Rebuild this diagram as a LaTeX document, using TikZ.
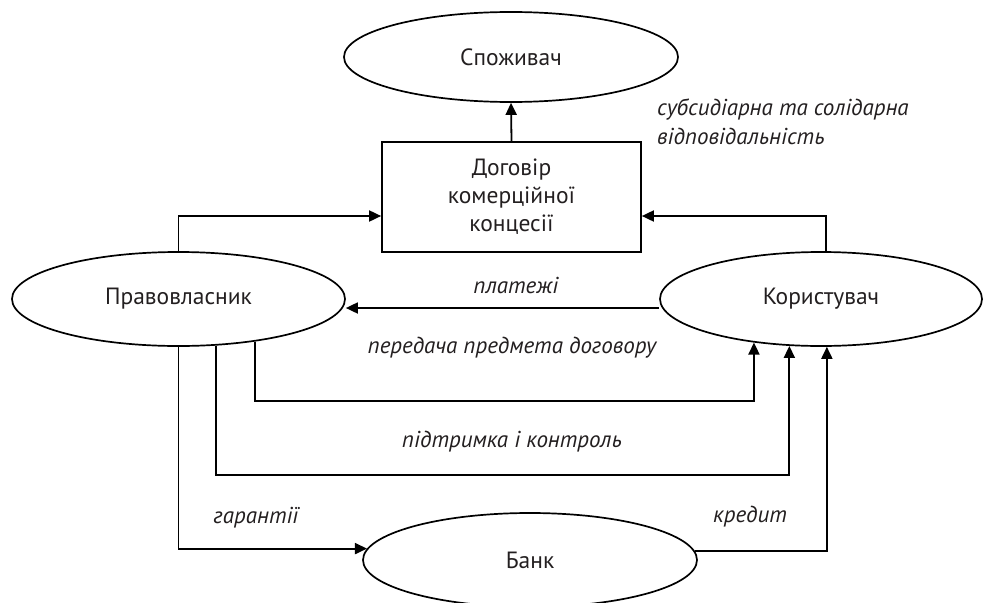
\documentclass[tikz,border=0pt]{standalone}
\usepackage{fontspec}
\setmainfont{PT Sans}
\usetikzlibrary{shapes.geometric,arrows.meta}
\definecolor{txt}{HTML}{231F20}
\begin{document}
\begin{tikzpicture}[x=1pt,y=-1pt,
  ell/.style={draw, ellipse, line width=1.7pt, inner sep=0pt, text=txt,
    font=\fontsize{23.5}{28}\selectfont},
  boxnode/.style={draw, rectangle, line width=1.7pt, inner sep=0pt, text=txt,
    align=center, minimum width=259pt, minimum height=110pt,
    font=\fontsize{23.5}{28}\selectfont},
  arr/.style={line width=1.8pt, -{Triangle[length=12pt,width=11pt]}},
  lbl/.style={text=txt, inner sep=0pt, font=\fontsize{23}{29}\selectfont\itshape}]
\useasboundingbox (0,0) rectangle (984,602);

\node[ell, minimum width=334pt, minimum height=90pt] (cons) at (511,57) {Споживач};
\node[boxnode] (box) at (511.5,197) {Договір\\комерційної\\концесії};
\node[ell, minimum width=333pt, minimum height=94pt] (owner) at (178.5,299) {Правовласник};
\node[ell, minimum width=322pt, minimum height=94pt] (user) at (821,299) {Користувач};
\node[ell, minimum width=334pt, minimum height=94pt] (bank) at (530,560) {Банк};

% labels
\node[lbl, anchor=west, align=left] (lsub) at (657,122) {субсидіарна та солідарна\\відповідальність};
\node[lbl] (lpay) at (516,285) {платежі};
\node[lbl] (ltr) at (512,348) {передача предмета договору};
\node[lbl] (lsup) at (512,442) {підтримка і контроль};
\node[lbl] (lgar) at (256,518) {гарантії};
\node[lbl] (lcred) at (750,517) {кредит};

% connectors
\draw[arr] (box.north) -- (cons.south);
\draw[arr] (owner.north) |- ([yshift=-19pt]box.west);
\draw[arr] (user.84) |- ([yshift=-19pt]box.east);
\draw[arr] ([yshift=-9pt]user.west) -- ([yshift=-9pt]owner.east);
\draw[arr] (owner.-29.6) -- (owner.-29.6 |- 0,401) -| (user.-147.9);
\draw[arr] (owner.-51.1) -- (owner.-51.1 |- 0,475) -| (user.-124.8);
\draw[arr] (owner.south) |- (bank.176.1);
\draw[arr] (bank.3.9) -| (user.-83.9);
\end{tikzpicture}
\end{document}
